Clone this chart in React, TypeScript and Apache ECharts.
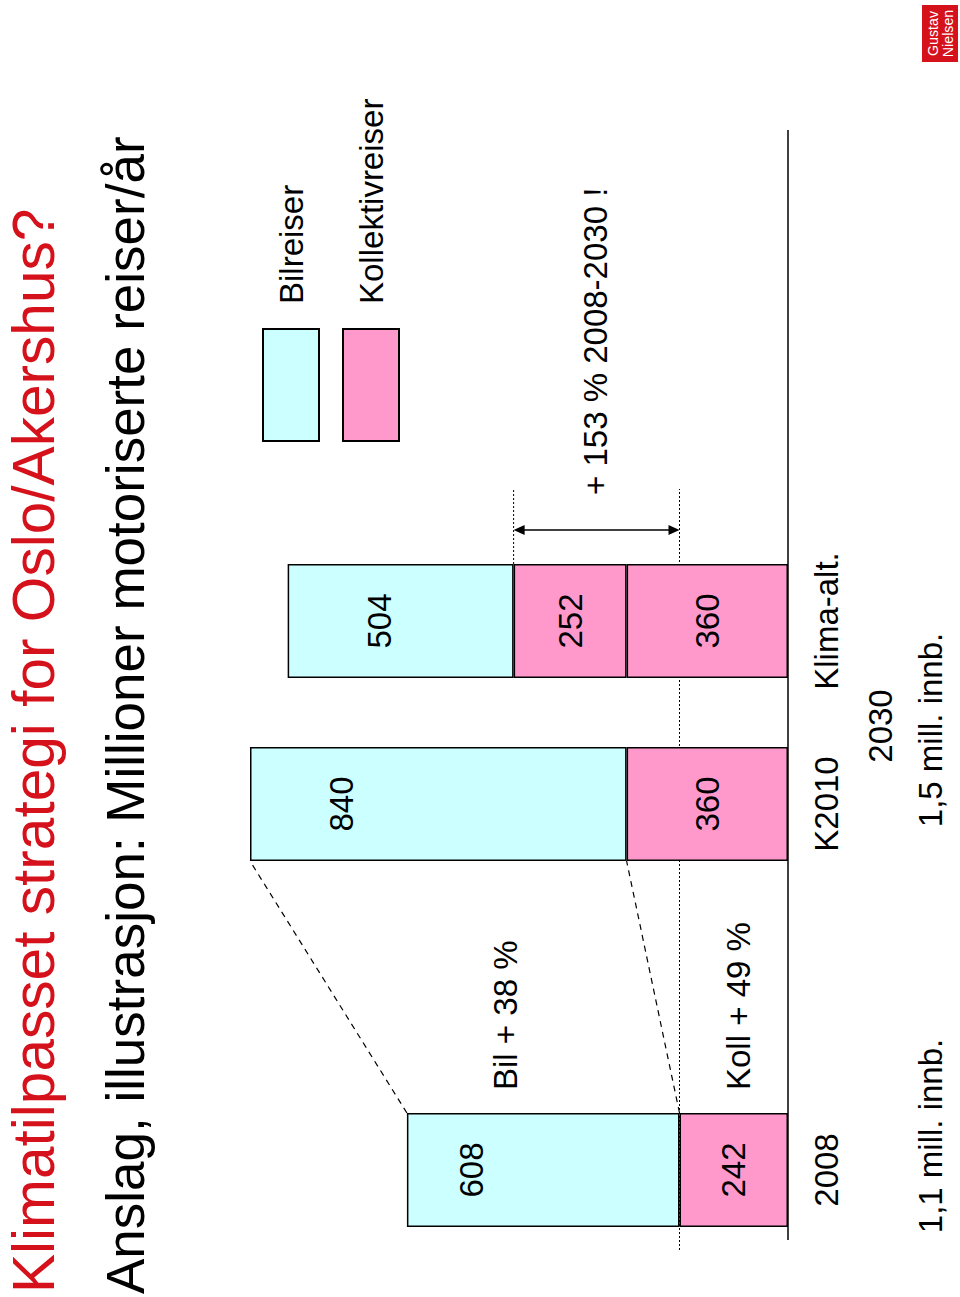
import React, { useEffect, useRef } from "react";
import * as echarts from "echarts";

// ---- data ----
const categories = ["2008", "K2010", "Klima-alt."];
const bilreiser = [608, 840, 504];
const kollektivBase = [242, 360, 360];
const kollektivExtra: (number | null)[] = [null, null, 252];
const seriesNames = ["Bilreiser", "Kollektivreiser"];
const yearLabel2030 = "2030";
const populationLabels = ["1,1 mill. innb.", "1,5 mill. innb."];
const changeLabels = ["Bil + 38 %", "Koll + 49 %"];
const growthLabel = "+ 153 % 2008-2030 !";
const titleText = "Klimatilpasset strategi for Oslo/Akershus?";
const subtitleText = "Anslag, illustrasjon: Millioner motoriserte reiser/år";
const logoLines = ["Gustav", "Nielsen"];
const valueMax = 1200;

const W = 1297;
const H = 960;
const FONT = "'Liberation Sans', Arial, Helvetica, sans-serif";
const CYAN = "#CCFFFF";
const PINK = "#FF99CC";

// spacer slot between 2008 and the 2030 alternatives
const withGap = <T,>(arr: T[], gap: T): T[] => [arr[0], gap, ...arr.slice(1)];

export default function App() {
  const ref = useRef<HTMLDivElement>(null);

  useEffect(() => {
    const chart = echarts.init(ref.current!, null, { renderer: "svg" });
    const bilDist = [48, 75, 75];
    const axisCats = withGap(categories, "");
    const bilData = withGap(
      bilreiser.map((v, i) => ({
        value: v,
        label: { position: "insideTop", distance: bilDist[i] },
      })) as any[],
      null
    );
    const labelCommon = {
      show: true,
      fontSize: 33,
      color: "#000",
      fontFamily: FONT,
    };
    const itemStyle = (c: string) => ({
      color: c,
      borderColor: "#000",
      borderWidth: 1.5,
    });

    chart.setOption({
      animation: false,
      backgroundColor: "#fff",
      textStyle: { fontFamily: FONT },
      grid: { left: 35.5, right: 529.5, top: 250, bottom: 172 },
      legend: {
        orient: "vertical",
        left: 855,
        top: 262,
        padding: 0,
        itemWidth: 112,
        itemHeight: 56,
        itemGap: 22,
        icon: "rect",
        selectedMode: false,
        data: seriesNames,
        textStyle: {
          fontSize: 33,
          color: "#000",
          fontFamily: FONT,
          padding: [0, 0, 0, 20],
        },
      },
      xAxis: {
        type: "category",
        data: axisCats,
        axisLine: { show: false },
        axisTick: { show: false },
        axisLabel: {
          interval: 0,
          fontSize: 33,
          color: "#000",
          margin: 22,
          fontFamily: FONT,
        },
      },
      yAxis: {
        type: "value",
        min: 0,
        max: valueMax,
        show: false,
        splitLine: { show: false },
      },
      series: [
        {
          name: seriesNames[1],
          type: "bar",
          stack: "t",
          barWidth: 114,
          data: withGap(kollektivBase as (number | null)[], null),
          itemStyle: itemStyle(PINK),
          label: { ...labelCommon, position: "inside" },
          z: 2,
        },
        {
          name: seriesNames[1],
          type: "bar",
          stack: "t",
          barWidth: 114,
          data: withGap(kollektivExtra, null),
          itemStyle: itemStyle(PINK),
          label: { ...labelCommon, position: "inside" },
          z: 2,
        },
        {
          name: seriesNames[0],
          type: "bar",
          stack: "t",
          barWidth: 114,
          data: bilData,
          itemStyle: itemStyle(CYAN),
          label: { ...labelCommon },
          z: 2,
        },
      ],
    });

    const p = (ci: number, v: number) =>
      chart.convertToPixel({ gridIndex: 0 }, [ci, v]) as number[];
    const half = 57;
    const base = p(0, 0)[1];
    const y242 = p(0, kollektivBase[0])[1];
    const y2008Top = p(0, kollektivBase[0] + bilreiser[0])[1];
    const k = p(2, 0)[0];
    const kTop = p(2, kollektivBase[1] + bilreiser[1])[1];
    const kKoll = p(2, kollektivBase[1])[1];
    const x2008 = p(0, 0)[0];
    const klima = p(3, 0)[0];
    const klimaKoll = p(3, kollektivBase[2] + (kollektivExtra[2] as number))[1];
    const arrowX = klima + half + 34;

    const txt = (
      text: string,
      x: number,
      y: number,
      opts: any = {}
    ) => ({
      type: "text",
      x,
      y,
      z: 20,
      style: {
        text,
        fill: "#000",
        fontSize: 33,
        fontFamily: FONT,
        textAlign: "left",
        textVerticalAlign: "middle",
        ...opts,
      },
    });
    const line = (
      x1: number,
      y1: number,
      x2: number,
      y2: number,
      st: any,
      z = 20
    ) => ({
      type: "line",
      z,
      shape: { x1, y1, x2, y2 },
      style: { stroke: "#000", lineWidth: 1.2, ...st },
    });

    chart.setOption({
      graphic: [
        // title & subtitle
        txt(titleText, 4, 33, { fill: "#D5121B", fontSize: 58.6 }),
        txt(subtitleText, 3, 125, { fontSize: 53 }),
        // baseline
        line(57, base, 1167, base, { lineWidth: 1.5 }),
        // dotted reference at 2008 kollektiv level (behind bars)
        line(47, y242, arrowX + 41, y242, { lineDash: [2, 2], lineWidth: 1 }, 0),
        // dotted reference at Klima-alt kollektiv level
        line(klima + half, klimaKoll, arrowX + 41, klimaKoll, {
          lineDash: [2, 2],
          lineWidth: 1,
        }),
        // dashed connectors 2008 -> K2010
        line(x2008 + half, y2008Top, k - half, kTop, { lineDash: [6, 5] }),
        line(x2008 + half, y242, k - half, kKoll, { lineDash: [6, 5] }),
        // double arrow
        line(arrowX, y242 - 9, arrowX, klimaKoll + 9, { lineWidth: 1.5 }),
        {
          type: "polygon",
          z: 20,
          shape: {
            points: [
              [arrowX, klimaKoll],
              [arrowX - 5, klimaKoll + 11],
              [arrowX + 5, klimaKoll + 11],
            ],
          },
          style: { fill: "#000" },
        },
        {
          type: "polygon",
          z: 20,
          shape: {
            points: [
              [arrowX, y242],
              [arrowX - 5, y242 - 11],
              [arrowX + 5, y242 - 11],
            ],
          },
          style: { fill: "#000" },
        },
        // annotations
        txt(changeLabels[0], 207, 505),
        txt(changeLabels[1], 207, 738),
        txt(growthLabel, 802, 595),
        txt(yearLabel2030, 571, 880, { textAlign: "center" }),
        txt(populationLabels[0], 161, 930, { textAlign: "center" }),
        txt(populationLabels[1], 567, 930, { textAlign: "center" }),
        // logo
        {
          type: "rect",
          z: 20,
          shape: { x: 1235, y: 922, width: 57, height: 36 },
          style: { fill: "#D5121B" },
        },
        txt(logoLines[0], 1263.5, 932.5, {
          fill: "#fff",
          fontSize: 14.2,
          textAlign: "center",
        }),
        txt(logoLines[1], 1263.5, 947.5, {
          fill: "#fff",
          fontSize: 14.2,
          textAlign: "center",
        }),
      ],
    });

    return () => chart.dispose();
  }, []);

  return (
    <div
      style={{
        position: "absolute",
        left: 0,
        top: 0,
        width: 960,
        height: 1297,
        overflow: "hidden",
        background: "#fff",
      }}
    >
      <div
        ref={ref}
        style={{
          position: "absolute",
          left: 0,
          top: 0,
          width: W,
          height: H,
          transformOrigin: "0 0",
          transform: `translateY(${W}px) rotate(-90deg)`,
        }}
      />
    </div>
  );
}
